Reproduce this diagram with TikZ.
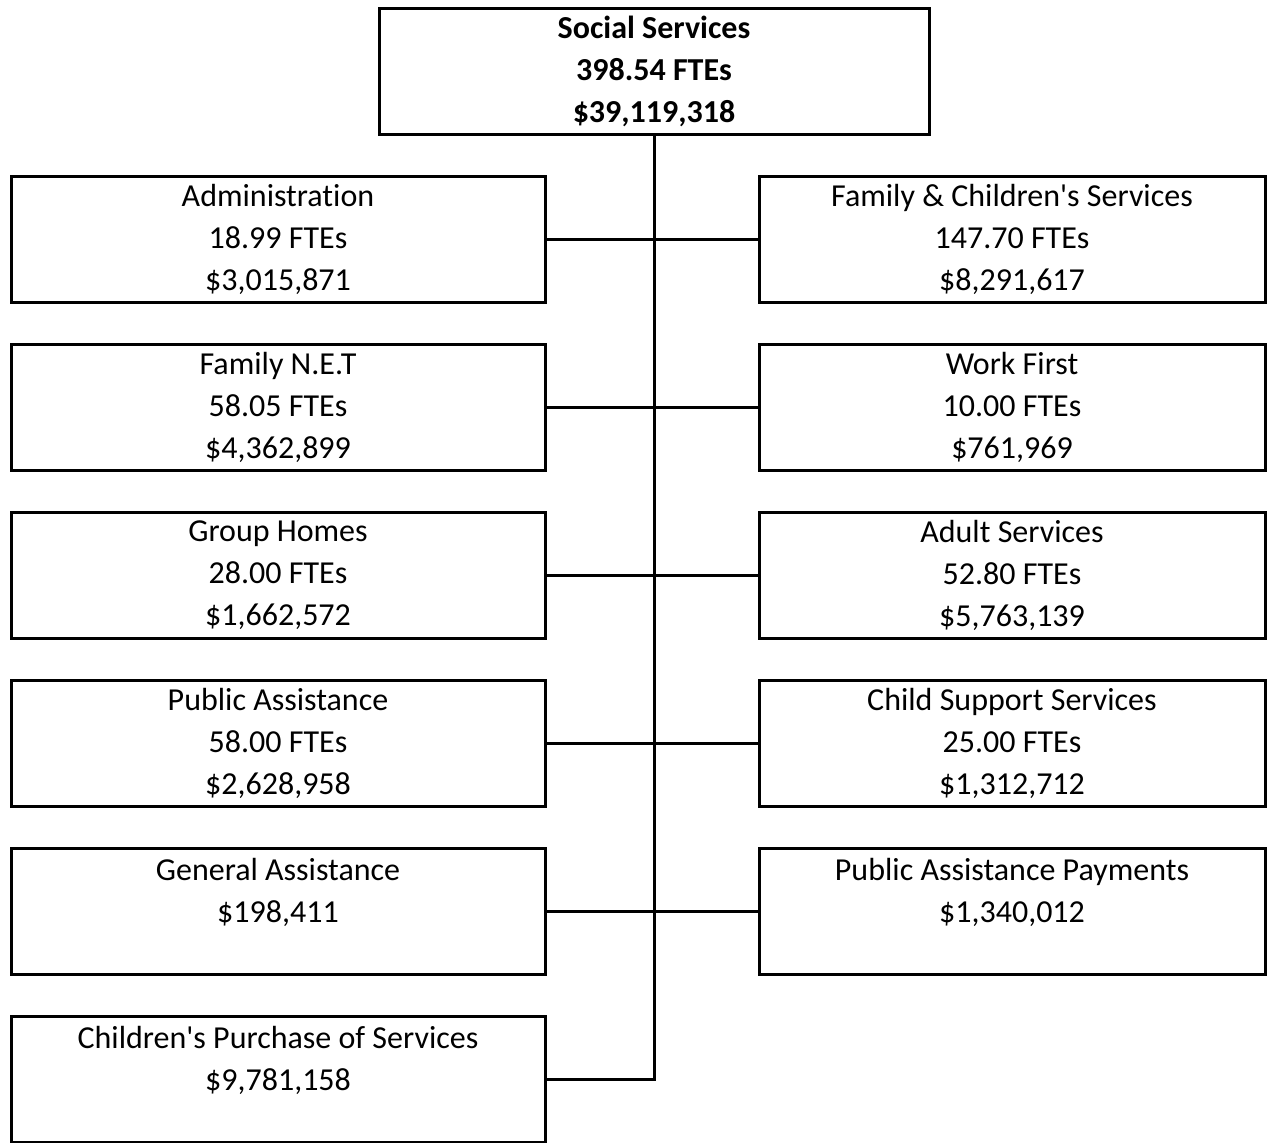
\documentclass[tikz,border=0pt]{standalone}
\usepackage{fontspec}
\setmainfont[Ligatures=NoCommon]{Carlito}
\usepackage{xcolor}

\begin{document}
\begin{tikzpicture}[x=1pt,y=-1pt,
		unitbox/.style={draw,line width=3pt,rectangle,align=center,inner sep=0pt,
			minimum height=126pt,font=\fontsize{32}{42}\selectfont},
		leftbox/.style={unitbox,minimum width=534pt},
		rightbox/.style={unitbox,minimum width=506pt},
		link/.style={line width=3pt}]
	\useasboundingbox (0,0) rectangle (1267,1143);

	\node[unitbox,minimum width=550pt,font=\fontsize{32}{42}\selectfont\bfseries] (dss) at (654,71)
		{Social Services\\398.54 FTEs\\\$39,119,318};

	\node[leftbox] (admin) at (278,239) {Administration\\18.99 FTEs\\\$3,015,871};
	\node[leftbox] (net) at (278,407) {Family N.E.T\\58.05 FTEs\\\$4,362,899};
	\node[leftbox] (group) at (278,575) {Group Homes\\28.00 FTEs\\\$1,662,572};
	\node[leftbox] (pubassist) at (278,743) {Public Assistance\\58.00 FTEs\\\$2,628,958};
	\node[leftbox] (genassist) at (278,911) {General Assistance\\\$198,411\\\phantom{0}};
	\node[leftbox] (purchase) at (278,1079) {Children\textquotesingle s Purchase of Services\\\$9,781,158\\\phantom{0}};

	\node[rightbox] (famchild) at (1012,239) {Family \& Children\textquotesingle s Services\\147.70 FTEs\\\$8,291,617};
	\node[rightbox] (workfirst) at (1012,407) {Work First\\10.00 FTEs\\\$761,969};
	\node[rightbox] (adult) at (1012,575) {Adult Services\\52.80 FTEs\\\$5,763,139};
	\node[rightbox] (childsupport) at (1012,743) {Child Support Services\\25.00 FTEs\\\$1,312,712};
	\node[rightbox] (payments) at (1012,911) {Public Assistance Payments\\\$1,340,012\\\phantom{0}};

	% spine down to the last box
	\draw[link] (dss.south) |- (purchase.east);
	\draw[link] (admin.east) -- (famchild.west);
	\draw[link] (net.east) -- (workfirst.west);
	\draw[link] (group.east) -- (adult.west);
	\draw[link] (pubassist.east) -- (childsupport.west);
	\draw[link] (genassist.east) -- (payments.west);
\end{tikzpicture}
\end{document}
